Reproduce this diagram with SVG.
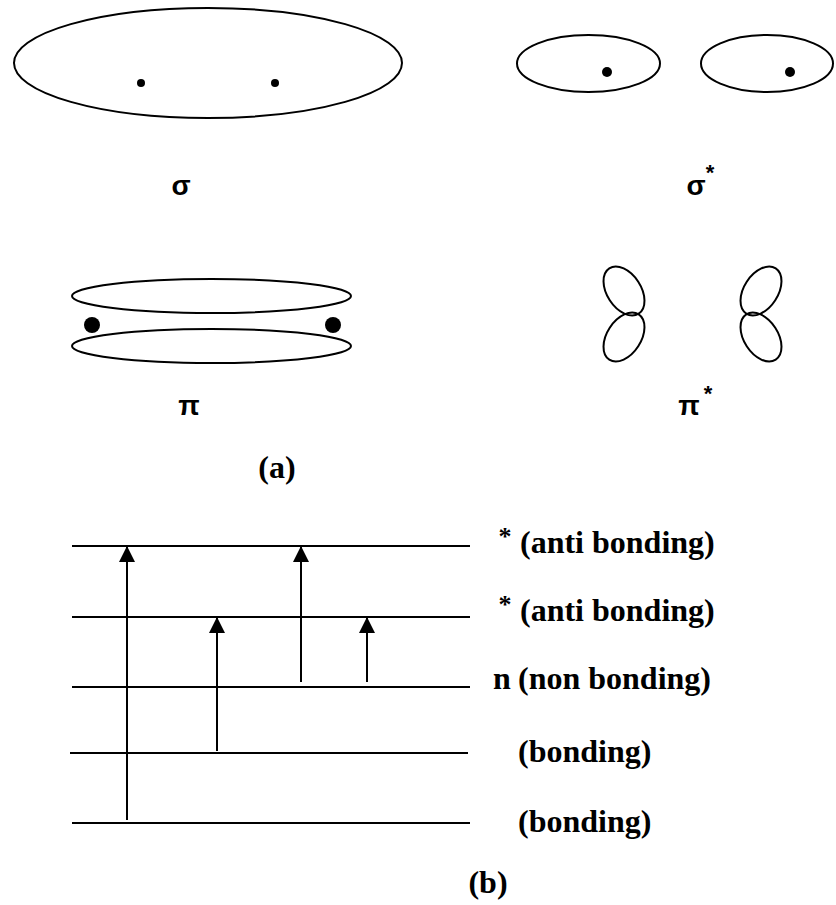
<svg xmlns="http://www.w3.org/2000/svg" width="836" height="905" viewBox="0 0 836 905">
  <style>
    .orb { fill: none; stroke: #000; stroke-width: 2; }
    .dot { fill: #000; }
    .greek { font-family: "Liberation Sans", Arial, sans-serif; font-weight: bold; font-size: 28px; fill: #000; }
    .sup { font-family: "Liberation Sans", Arial, sans-serif; font-weight: bold; font-size: 22px; fill: #000; }
    .lbl { font-family: "Liberation Serif", "Times New Roman", serif; font-weight: bold; font-size: 32px; fill: #000; }
    .lsup { font-family: "Liberation Serif", "Times New Roman", serif; font-weight: bold; font-size: 26px; fill: #000; }
    .level { stroke: #000; stroke-width: 2; }
    .trans { stroke: #000; stroke-width: 2; fill: none; marker-end: url(#head); }
  </style>
  <defs>
    <marker id="head" viewBox="0 0 16 16" refX="16" refY="8" markerWidth="16" markerHeight="16" markerUnits="userSpaceOnUse" orient="auto">
      <path d="M0,0 L16,8 L0,16 Z" fill="#000"/>
    </marker>
  </defs>

  <!-- (a) orbital shapes -->
  <g id="sigma">
    <ellipse class="orb" cx="208" cy="63" rx="194" ry="55"/>
    <circle class="dot" cx="141" cy="83" r="4"/>
    <circle class="dot" cx="275" cy="83" r="4"/>
    <text class="greek" x="181" y="195" text-anchor="middle">σ</text>
  </g>

  <g id="sigma-star">
    <ellipse class="orb" cx="588.5" cy="63.5" rx="71.5" ry="28.5"/>
    <circle class="dot" cx="607" cy="72" r="5"/>
    <ellipse class="orb" cx="767" cy="63.5" rx="66" ry="28.5"/>
    <circle class="dot" cx="790" cy="72" r="5"/>
    <text class="greek" x="696" y="195" text-anchor="middle">σ</text>
    <text class="sup" x="710" y="180" text-anchor="middle">*</text>
  </g>

  <g id="pi">
    <ellipse class="orb" cx="211.5" cy="296" rx="139.5" ry="17"/>
    <ellipse class="orb" cx="211.5" cy="346" rx="139.5" ry="17"/>
    <circle class="dot" cx="92" cy="325" r="8"/>
    <circle class="dot" cx="333" cy="325" r="8"/>
    <text class="greek" x="189" y="415" text-anchor="middle">π</text>
  </g>

  <g id="pi-star">
    <ellipse class="orb" cx="0" cy="0" rx="17" ry="27" transform="translate(624 291) rotate(-33)"/>
    <ellipse class="orb" cx="0" cy="0" rx="17" ry="27" transform="translate(624 337) rotate(33)"/>
    <ellipse class="orb" cx="0" cy="0" rx="17" ry="27" transform="translate(761 291) rotate(33)"/>
    <ellipse class="orb" cx="0" cy="0" rx="17" ry="27" transform="translate(761 337) rotate(-33)"/>
    <text class="greek" x="689" y="415" text-anchor="middle">π</text>
    <text class="sup" x="708" y="401" text-anchor="middle">*</text>
  </g>

  <text id="caption-a" class="lbl" x="277" y="478" text-anchor="middle">(a)</text>

  <!-- (b) energy levels -->
  <g id="levels">
    <line class="level" x1="72" y1="546" x2="470" y2="546"/>
    <line class="level" x1="72" y1="617" x2="470" y2="617"/>
    <line class="level" x1="72" y1="687" x2="470" y2="687"/>
    <line class="level" x1="70" y1="753" x2="468" y2="753"/>
    <line class="level" x1="72" y1="823" x2="470" y2="823"/>
  </g>

  <g id="level-labels">
    <text class="lsup" x="505" y="545" text-anchor="middle">*</text>
    <text class="lbl" x="520" y="553">(anti bonding)</text>
    <text class="lsup" x="505" y="613" text-anchor="middle">*</text>
    <text class="lbl" x="520" y="621">(anti bonding)</text>
    <text class="lbl" x="493" y="689">n</text>
    <text class="lbl" x="518" y="689">(non bonding)</text>
    <text class="lbl" x="518" y="762">(bonding)</text>
    <text class="lbl" x="518" y="832">(bonding)</text>
  </g>

  <!-- electronic transitions -->
  <g id="transitions">
    <line class="trans" x1="127" y1="820" x2="127" y2="546"/>
    <line class="trans" x1="217" y1="751" x2="217" y2="617"/>
    <line class="trans" x1="301" y1="682" x2="301" y2="546"/>
    <line class="trans" x1="367" y1="682" x2="367" y2="617"/>
  </g>

  <text id="caption-b" class="lbl" x="488" y="893" text-anchor="middle">(b)</text>
</svg>
